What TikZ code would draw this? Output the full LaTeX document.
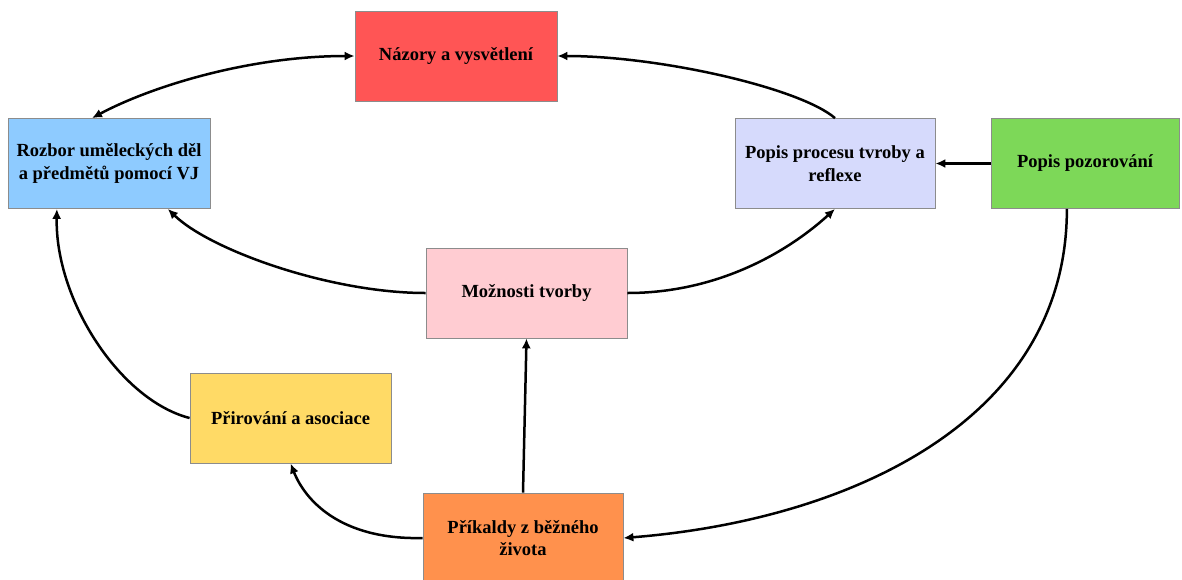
\documentclass[tikz,border=0pt]{standalone}
\usepackage{fontspec}
\setmainfont{Liberation Serif}
\usetikzlibrary{arrows.meta,calc}
\definecolor{cred}{RGB}{255,85,85}
\definecolor{cblue}{RGB}{142,203,255}
\definecolor{clav}{RGB}{214,218,252}
\definecolor{cgreen}{RGB}{125,216,88}
\definecolor{cpink}{RGB}{255,204,210}
\definecolor{cyellow}{RGB}{255,218,102}
\definecolor{corange}{RGB}{255,145,77}
\definecolor{cborder}{RGB}{140,140,140}
\tikzset{
  box/.style={draw=cborder, line width=0.8pt, minimum height=90pt, inner sep=2pt,
    align=center, font=\fontsize{18.5}{22.5}\selectfont\bfseries},
  conn/.style={line width=2.5pt, -{Latex[length=10pt,width=9pt]}},
  bconn/.style={line width=2.5pt, {Latex[length=10pt,width=9pt]}-{Latex[length=10pt,width=9pt]}}
}
\begin{document}
\begin{tikzpicture}[x=1pt,y=-1pt]
\useasboundingbox (0,0) rectangle (1182,579);
\fill[white] (0,0) rectangle (1182,579);
\node[box, fill=cred, minimum width=202pt] (red) at (456,56) {Názory a vysvětlení};
\node[box, fill=cblue, minimum width=202pt] (blue) at (109,163.5) {Rozbor uměleckých děl\\a předmětů pomocí VJ};
\node[box, fill=clav, minimum width=200pt] (lav) at (835,163.5) {Popis procesu tvroby a\\reflexe};
\node[box, fill=cgreen, minimum width=188pt] (green) at (1085,163.5) {Popis pozorování};
\node[box, fill=cpink, minimum width=201pt] (pink) at (526.5,293) {Možnosti tvorby};
\node[box, fill=cyellow, minimum width=201pt] (yellow) at (290.5,418) {Přirování a asociace};
\node[box, fill=corange, minimum width=200pt] (orange) at (523,538) {Příkaldy z běžného\\života};
% connectors
\coordinate (bt) at ($(blue.north west)!0.416!(blue.north east)$);
\coordinate (bb1) at ($(blue.south west)!0.243!(blue.south east)$);
\coordinate (bb2) at ($(blue.south west)!0.79!(blue.south east)$);
\coordinate (gb) at ($(green.south west)!0.404!(green.south east)$);
\draw[bconn] (bt) .. controls (152,86) and (250,56) .. (red.west);
\draw[conn] (lav.north) .. controls (800,88) and (660,56) .. (red.east);
\draw[conn] (green.west) -- (lav.east);
\draw[conn] (pink.west) .. controls (330,293) and (210,250) .. (bb2);
\draw[conn] (pink.east) .. controls (720,293) and (790,250) .. (lav.south);
\draw[conn] (yellow.west) .. controls (120,400) and (55,300) .. (bb1);
\draw[conn] (orange.west) .. controls (340,540) and (305,500) .. (yellow.south);
\draw[conn] (orange.north) -- (pink.south);
\draw[conn] (gb) .. controls (1067,420) and (850,520) .. (orange.east);
\end{tikzpicture}
\end{document}
